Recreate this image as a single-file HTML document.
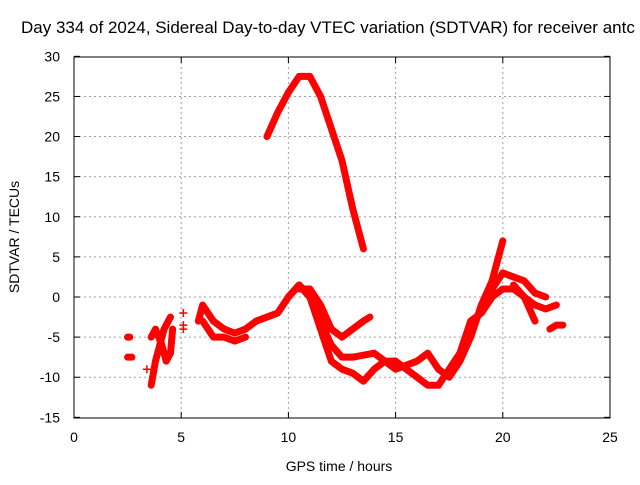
<!DOCTYPE html>
<html><head><meta charset="utf-8"><style>
body{margin:0;background:#fff;width:640px;height:480px;overflow:hidden}
svg text{font-family:"Liberation Sans",sans-serif;font-size:14px;fill:#000}
</style></head><body>
<svg width="640" height="480">
<g id="grid"></g>
<g id="axes"></g>
<g id="marks"></g>
<text x="21" y="33" style="font-size:17px">Day 334 of 2024, Sidereal Day-to-day VTEC variation (SDTVAR) for receiver antc</text>
<text x="339" y="471" text-anchor="middle">GPS time / hours</text>
<text transform="translate(19,237) rotate(-90)" text-anchor="middle">SDTVAR / TECUs</text>
</svg>
<script>
const xTicks=[0,5,10,15,20,25];
const yTicks=[-15,-10,-5,0,5,10,15,20,25,30];
const trackPeak=[[9,20],[9.5,23],[10,25.5],[10.5,27.5],[11,27.5],[11.5,25],[12,21],[12.5,17],[13,11],[13.5,6]];
const track1=[[5.8,-3],[6,-1],[6.5,-3],[7,-4],[7.5,-4.5],[8,-4],[8.5,-3],[9,-2.5],[9.5,-2],[10,0],[10.5,1.5],[11,0],[11.5,-4],[12,-8],[12.5,-9],[13,-9.5],[13.5,-10.5],[14,-9],[14.5,-8],[15,-8],[15.5,-9],[16,-10],[16.5,-11],[17,-11],[17.5,-9],[18,-7],[18.5,-3],[19,-2],[19.5,0],[20,1],[20.5,1],[21,0],[21.5,-3]];
const track2=[[10,0],[10.5,1.5],[11,0],[11.5,-3],[12,-6],[12.5,-7.5],[13,-7.5],[14,-7],[15,-9],[16,-8],[16.5,-7],[17,-9],[17.5,-10],[18,-8],[18.5,-5],[19,-1],[19.5,2],[20,7]];
const track3=[[10.5,1],[11,1],[11.5,-1],[12,-4],[12.5,-5],[13,-4],[13.5,-3],[13.8,-2.5]];
const track4=[[19,-1],[19.5,1],[20,3],[20.5,2.5],[21,2],[21.5,0.5],[22,0]];
const track5=[[20.5,1.5],[21,0],[21.5,-1],[22,-1.5],[22.5,-1]];
const track6=[[22.2,-4],[22.5,-3.5],[22.8,-3.5]];
const track7=[[6,-3],[6.5,-5],[7,-5],[7.5,-5.5],[8,-5]];
const track8=[[3.6,-11],[3.8,-8],[4,-6],[4.2,-4],[4.4,-3],[4.5,-2.5]];
const track9=[[3.6,-5],[3.8,-4],[4.1,-6],[4.3,-8],[4.5,-7],[4.6,-4]];
const track10=[[2.5,-5],[2.6,-5]];
const track11=[[2.5,-7.5],[2.7,-7.5]];
const points=[[3.4,-9],[5.1,-2],[5.1,-3.5],[5.1,-4]];
const X=v=>74+v*(536/25), Y=v=>297-v*(361/45);
const ns='http://www.w3.org/2000/svg';
function mk(t,a,p){const e=document.createElementNS(ns,t);for(const k in a)e.setAttribute(k,a[k]);p.appendChild(e);return e;}
const g=document.getElementById('grid'),ax=document.getElementById('axes'),m=document.getElementById('marks');
xTicks.forEach(t=>{if(t>0&&t<25){const l=mk('line',{x1:X(t),x2:X(t),y1:57,y2:418,stroke:'#a0a0a0','stroke-dasharray':'2,3'},g);}
 const tx=mk('text',{x:X(t),y:442,'text-anchor':'middle'},ax);tx.textContent=t;
 mk('line',{x1:X(t),x2:X(t),y1:418,y2:412,stroke:'#000'},ax);mk('line',{x1:X(t),x2:X(t),y1:57,y2:63,stroke:'#000'},ax);});
yTicks.forEach(t=>{if(t>-15&&t<30){const l=mk('line',{x1:74,x2:610,y1:Y(t),y2:Y(t),stroke:'#a0a0a0','stroke-dasharray':'2,3'},g);}
 const tx=mk('text',{x:60,y:Y(t)+5,'text-anchor':'end'},ax);tx.textContent=t;
 mk('line',{x1:74,x2:80,y1:Y(t),y2:Y(t),stroke:'#000'},ax);mk('line',{x1:610,x2:604,y1:Y(t),y2:Y(t),stroke:'#000'},ax);});
const fr=mk('rect',{x:74,y:57,width:536,height:361,fill:'none',stroke:'#000'},ax);

[trackPeak,track1,track2,track3,track4,track5,track6,track7,track8,track9,track10,track11].forEach(tr=>{
 const p=mk('polyline',{points:tr.map(d=>X(d[0])+','+Y(d[1])).join(' '),fill:'none',stroke:'#f00','stroke-width':7,'stroke-linejoin':'round','stroke-linecap':'round'},m);
 });
points.forEach(d=>{const p=mk('path',{d:`M${X(d[0])-4},${Y(d[1])}h8M${X(d[0])},${Y(d[1])-4}v8`,stroke:'#f00','stroke-width':1.5},m);
 });
</script>
</body></html>
